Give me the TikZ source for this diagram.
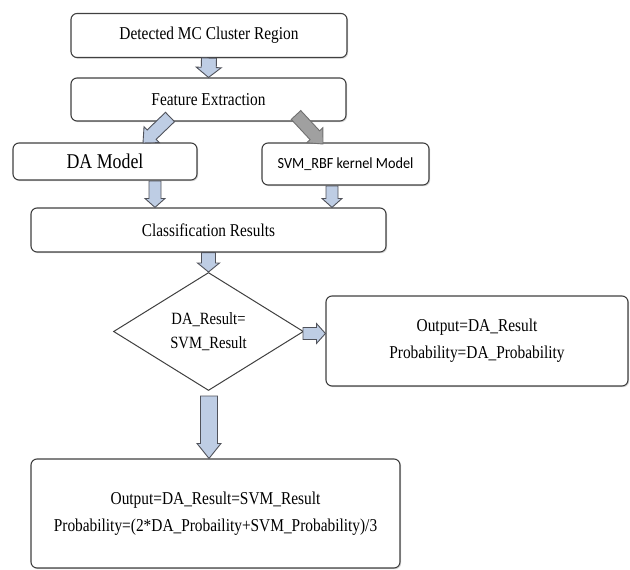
\documentclass[tikz,border=0pt]{standalone}
\usepackage{fontspec}
\setmainfont{Liberation Serif}[FakeStretch=0.85]
\newfontfamily\carl{Carlito}[FakeStretch=0.92]
\usetikzlibrary{calc,shapes.geometric,shadows}
\definecolor{edge}{RGB}{64,64,64}
\definecolor{arrfill}{RGB}{190,205,228}
\definecolor{arredge}{RGB}{80,82,90}
\definecolor{grayfill}{RGB}{160,160,160}
\tikzset{
  box/.style={draw=edge, line width=1.1pt, rounded corners=6pt, fill=white,
    inner sep=0pt, align=center, font=\fontsize{18.1}{27}\selectfont,
    drop shadow={shadow xshift=1.2pt,shadow yshift=-1.2pt,opacity=0.3}},
  dia/.style={diamond, draw=edge, line width=1pt, fill=white, inner sep=0pt,
    align=center, font=\fontsize{17.2}{24}\selectfont},
  barrowstyle/.style={draw=arredge, line width=0.9pt, fill=arrfill, line join=miter},
  grayarrow/.style={fill=grayfill, draw=grayfill!70!black}
}
% #1 extra style, #2 from, #3 to, #4 shaft half width, #5 head half width, #6 head length
\newcommand\blockarr[6][]{%
  \coordinate (bh) at ($(#3)!#6!(#2)$);
  \draw[barrowstyle,#1] ($(#2)!#4!90:(#3)$) -- ($(bh)!#4!90:(#3)$) -- ($(bh)!#5!90:(#3)$)
    -- (#3) -- ($(bh)!#5!-90:(#3)$) -- ($(bh)!#4!-90:(#3)$) -- ($(#2)!#4!-90:(#3)$) -- cycle;}
\begin{document}
\begin{tikzpicture}[x=1pt,y=1pt]
\useasboundingbox (0,0) rectangle (630,-570);
\node[box, minimum width=276pt, minimum height=44pt] (n1) at (209,-35.5) {Detected MC Cluster Region};
\node[box, minimum width=275pt, minimum height=43pt] (n2) at (208.5,-99.5) {Feature Extraction};
\node[box, minimum width=184pt, minimum height=37pt, font=\fontsize{21}{24}\selectfont] (dam) at (105,-161.5) {DA Model};
\node[box, minimum width=167pt, minimum height=42pt, font=\carl\fontsize{15.5}{18}\selectfont] (svm) at (345.5,-164) {SVM\_RBF kernel Model};
\node[box, minimum width=355pt, minimum height=44pt, font=\fontsize{18}{27}\selectfont] (cls) at (208.5,-230) {Classification Results};
\node[dia, minimum width=190pt, minimum height=118pt] (dec) at (208.5,-331.5) {DA\_Result=\\SVM\_Result};
\node[box, minimum width=302pt, minimum height=90pt] (out1) at (477,-341) {Output=DA\_Result\\Probability=DA\_Probability};
\node[box, minimum width=369pt, minimum height=109pt] (out2) at (215.5,-513.5) {Output=DA\_Result=SVM\_Result\\Probability=(2*DA\_Probaility+SVM\_Probability)/3};
% connector end points
\coordinate (l1) at (170,-117);
\coordinate (l2) at (143,-143);
\coordinate (r1) at (296,-115);
\coordinate (r2) at (323,-144);
\coordinate (d1) at (155,-181);
\coordinate (d2) at (d1 |- cls.north);
\coordinate (s1) at (332,-186);
\coordinate (s2) at (s1 |- cls.north);
\coordinate (e1) at ($(dec.east)+(-1,-2)$);
\coordinate (e2) at (e1 -| out1.west);
\coordinate (b1) at (209,-396);
\coordinate (b2) at (b1 |- out2.north);
% block arrows
\blockarr{n1.south}{n2.north}{7.5pt}{12.5pt}{10pt}
\blockarr{l1}{l2}{6.5pt}{11pt}{12pt}
\blockarr[grayarrow]{r1}{r2}{6.5pt}{11pt}{12pt}
\blockarr{d1}{d2}{6pt}{10pt}{9pt}
\blockarr{s1}{s2}{6pt}{10pt}{9pt}
\blockarr{cls.south}{dec.north}{7pt}{11pt}{9pt}
\blockarr{e1}{e2}{6pt}{10pt}{9pt}
\blockarr{b1}{b2}{8.5pt}{12pt}{15pt}
\end{tikzpicture}
\end{document}
